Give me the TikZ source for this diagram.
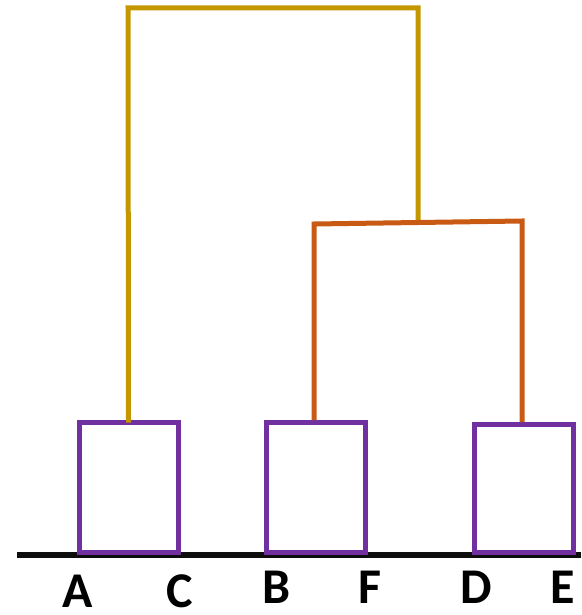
\documentclass[tikz,border=0pt]{standalone}
\usepackage{fontspec}
\setmainfont{Carlito}
\definecolor{gold}{RGB}{196,150,0}
\definecolor{rust}{RGB}{200,90,20}
\definecolor{purp}{RGB}{112,48,160}
\tikzset{
  clusterbox/.style={draw=purp,line width=5pt,fill=none,inner sep=0pt},
  goldline/.style={draw=gold,line width=5pt},
  rustline/.style={draw=rust,line width=5pt},
  axisline/.style={draw=black!95,line width=6pt},
  leaf/.style={font=\bfseries\fontsize{50}{50}\selectfont,inner sep=0pt,anchor=base}
}
\begin{document}
\begin{tikzpicture}[x=1pt,y=-1pt]
\useasboundingbox (0,0) rectangle (581,615);
% axis
\coordinate (axL) at (17,555);
\coordinate (axR) at (581,555);
\draw[axisline] (axL) -- (axR);
% boxes
\node[clusterbox,minimum width=99pt,minimum height=130pt] (b1) at (128.5,487.5) {};
\node[clusterbox,minimum width=99pt,minimum height=130pt] (b2) at (316,487.5) {};
\node[clusterbox,minimum width=99pt,minimum height=128pt] (b3) at (523.5,488.5) {};
% labels
\node[leaf] (A) at (78,607) {A};
\node[leaf] (C) at (180,607) {C};
\node[leaf] (B) at (277,603) {B};
\node[leaf] (F) at (370,603) {F};
\node[leaf] (D) at (476,603) {D};
\node[leaf] (E) at (563,603) {E};
% dendrogram
\coordinate (top1) at (128,8);
\coordinate (top2) at (418,8);
\coordinate (j) at (418,222);
\coordinate (o1) at (314,224);
\coordinate (o2) at (522,221);
\draw[goldline,line cap=rect] (b1.north) -- (top1) -- (top2) -- (j);
\draw[rustline] (b2.north -| o1) -- (o1) -- (o2) -- (b3.north -| o2);
\end{tikzpicture}
\end{document}
